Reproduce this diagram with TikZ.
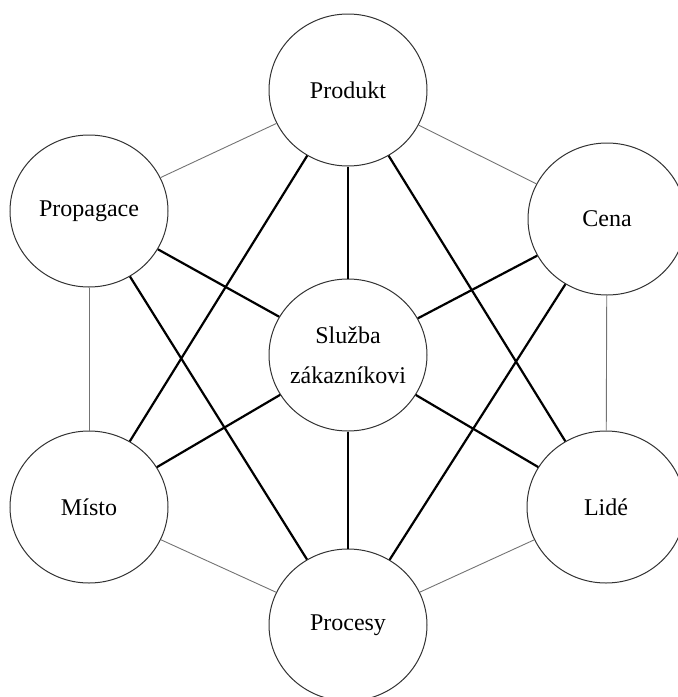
\documentclass[tikz,border=0pt]{standalone}
\usepackage{fontspec}
\setmainfont{Liberation Serif}
\usetikzlibrary{shapes.geometric}

\begin{document}
\begin{tikzpicture}[x=0.5pt,y=-0.5pt,
  kruh/.style={ellipse,draw=black!80,line width=0.5pt,fill=white,
    minimum width=79pt,minimum height=76pt,inner sep=0pt,align=center,
    font=\fontsize{12}{20}\selectfont},
  tenka/.style={draw=black!55,line width=0.45pt},
  tlusta/.style={draw=black,line width=1.1pt}]
\useasboundingbox (0,0) rectangle (677,697);
\node[kruh] (prod) at (348,90) {Produkt};
\node[kruh] (prop) at (89,211) {Propagace};
\node[kruh] (cena) at (607,219) {Cena};
\node[kruh] (sluz) at (348,355)
  {\makebox[0pt]{Služba}\\\makebox[0pt]{zákazníkovi}};
\node[kruh] (misto) at (89,507) {Místo};
\node[kruh] (lide) at (606,507) {Lidé};
\node[kruh] (proc) at (348,625) {Procesy};
% vnejsi sestiuhelnik
\draw[tenka] (prod) -- (prop);
\draw[tenka] (prod) -- (cena);
\draw[tenka] (prop) -- (misto);
\draw[tenka] (cena) -- (lide);
\draw[tenka] (misto) -- (proc);
\draw[tenka] (lide) -- (proc);
% stred
\foreach \n in {prod,prop,cena,misto,lide,proc}
  \draw[tlusta] (sluz) -- (\n);
% uhlopricky
\draw[tlusta] (prod) -- (misto);
\draw[tlusta] (prod) -- (lide);
\draw[tlusta] (prop) -- (proc);
\draw[tlusta] (cena) -- (proc);
\end{tikzpicture}
\end{document}
